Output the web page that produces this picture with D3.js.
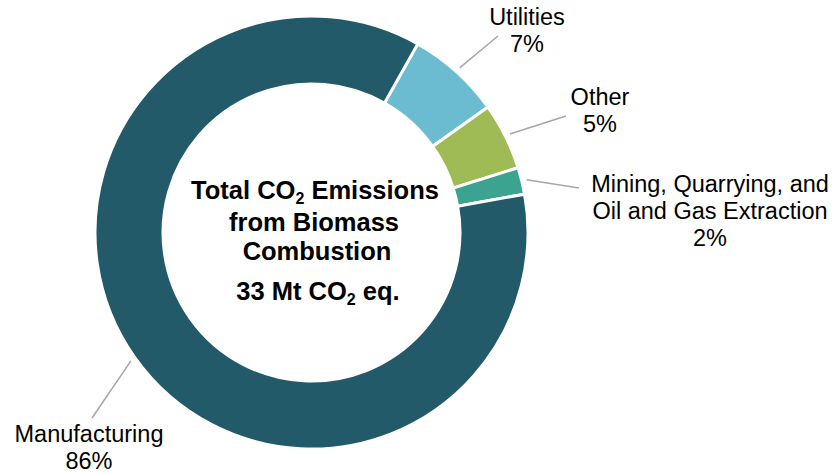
<!DOCTYPE html>
<html>
<head>
<meta charset="utf-8">
<script src="https://cdn.jsdelivr.net/npm/d3@7"></script>
<style>
  body { margin: 0; background: #fff; }
  text { font-family: "Liberation Sans", Arial, sans-serif; fill: #000; }
</style>
</head>
<body>
<div id="chart"></div>
<script>
var width = 837,
    height = 474;

// data
var categories = ["Utilities", "Other", "Mining, Quarrying, and Oil and Gas Extraction", "Manufacturing"];
var shares = [7, 5, 2, 86];
var colors = ["#6bbcd1", "#9fbb55", "#3ca391", "#225a69"];

// label text lines (without the % line)
var labelLines = [["Utilities"], ["Other"], ["Mining, Quarrying, and", "Oil and Gas Extraction"], ["Manufacturing"]];

// where each label sits (layout only)
var labelSpots = [
    { x: 527, y: 25, lineEnd: [498, 36] },
    { x: 600, y: 105, lineEnd: [566, 116] },
    { x: 710, y: 192, lineEnd: [579, 188] },
    { x: 89, y: 442, lineEnd: [92, 418] }
];

var cx = 311.5, cy = 232.5,
    outerR = 216.5, innerR = 148.5;

var svg = d3.select("#chart").append("svg")
    .attr("width", width)
    .attr("height", height);

var g = svg.append("g")
    .attr("transform", "translate(" + cx + "," + cy + ")");

var startA = 29.4 * Math.PI / 180;

var pie = d3.pie()
    .sort(null)
    .value(function(d) { return d; })
    .startAngle(startA)
    .endAngle(startA + 2 * Math.PI);

var arc = d3.arc()
    .innerRadius(innerR)
    .outerRadius(outerR);

var arcs = pie(shares);

g.selectAll("path.slice")
    .data(arcs)
    .enter().append("path")
    .attr("class", "slice")
    .attr("d", arc)
    .attr("fill", function(d, i) { return colors[i]; })
    .attr("stroke", "#fff")
    .attr("stroke-width", 3)
    .attr("stroke-linejoin", "miter");

// leader lines from the outer edge at the slice middle
var lineArc = d3.arc().innerRadius(outerR + 5).outerRadius(outerR + 5);

svg.selectAll("line.leader")
    .data(arcs)
    .enter().append("line")
    .attr("class", "leader")
    .attr("x1", function(d) { return cx + lineArc.centroid(d)[0]; })
    .attr("y1", function(d) { return cy + lineArc.centroid(d)[1]; })
    .attr("x2", function(d, i) { return labelSpots[i].lineEnd[0]; })
    .attr("y2", function(d, i) { return labelSpots[i].lineEnd[1]; })
    .attr("stroke", "#a6a6a6")
    .attr("stroke-width", 1.5);

var labels = svg.selectAll("text.lab")
    .data(arcs)
    .enter().append("text")
    .attr("class", "lab")
    .attr("text-anchor", "middle")
    .attr("font-size", "23.5px")
    .attr("x", function(d, i) { return labelSpots[i].x; })
    .attr("y", function(d, i) { return labelSpots[i].y; });

labels.each(function(d, i) {
    var t = d3.select(this);
    var lines = labelLines[i].concat([shares[i] + "%"]);
    lines.forEach(function(s, j) {
        t.append("tspan")
            .attr("x", labelSpots[i].x)
            .attr("dy", j === 0 ? 0 : 27)
            .text(s);
    });
});

// centre title
var title = svg.append("g")
    .attr("font-weight", "bold")
    .attr("font-size", "25.5px")
    .attr("text-anchor", "middle");

function withSub(sel, before, after) {
    sel.append("tspan").text(before);
    sel.append("tspan").attr("font-size", "16px").attr("dy", 5).text("2");
    sel.append("tspan").attr("dy", -5).text(after);
}

var t1 = title.append("text").attr("x", 315).attr("y", 199);
withSub(t1, "Total CO", " Emissions");
title.append("text").attr("x", 314).attr("y", 231).text("from Biomass");
title.append("text").attr("x", 317).attr("y", 260).text("Combustion");
var t4 = title.append("text").attr("x", 318).attr("y", 300);
withSub(t4, "33 Mt CO", " eq.");
</script>
</body>
</html>
